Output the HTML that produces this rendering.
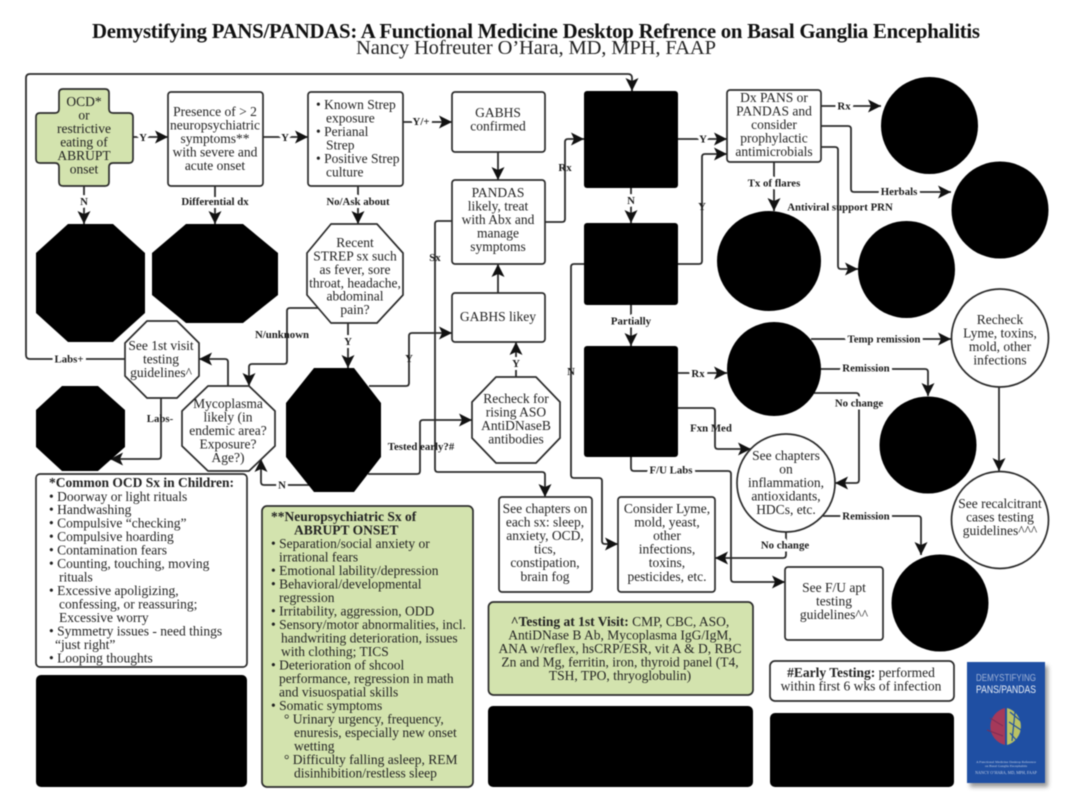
<!DOCTYPE html>
<html lang="en"><head><meta charset="utf-8"><title>Demystifying PANS/PANDAS</title>
<style>
html,body{margin:0;padding:0;background:#fff}
svg{display:block;filter:blur(.4px)}
text{font-family:"Liberation Serif",serif;fill:#222}
.t{font-size:13.5px;text-anchor:middle}
.l{font-size:13.5px}
.b{font-weight:bold}
.k{font-size:10.8px;font-weight:bold;text-anchor:middle;fill:#1a1a1a}
.h{paint-order:stroke;stroke:#fff;stroke-width:6px;stroke-linejoin:round}
.s{fill:#fff;stroke:#2b2b2b;stroke-width:1.7;stroke-linejoin:round}
.g{fill:#d3e3ae;stroke:#2b2b2b;stroke-width:1.7;stroke-linejoin:round}
.c{fill:none;stroke:#2b2b2b;stroke-width:1.8;stroke-linejoin:round;marker-end:url(#a)}
</style></head><body>
<svg width="1070" height="805" viewBox="0 0 1070 805" xmlns="http://www.w3.org/2000/svg">
<defs>
<marker id="a" markerUnits="userSpaceOnUse" markerWidth="14" markerHeight="13" refX="13" refY="6.5" orient="auto"><path d="M0,0 L13,6.5 L0,13 L3,6.5 Z" fill="#111"/></marker>
<filter id="sh" x="-20%" y="-20%" width="140%" height="140%"><feGaussianBlur stdDeviation="2"/></filter>
</defs>
<rect width="1070" height="805" fill="#fff"/>

<text x="536" y="38" text-anchor="middle" font-size="20.8" font-weight="bold" textLength="888" lengthAdjust="spacing" style="fill:#111">Demystifying PANS/PANDAS: A Functional Medicine Desktop Refrence on Basal Ganglia Encephalitis</text>
<text x="536" y="54" text-anchor="middle" font-size="20.5" textLength="360" lengthAdjust="spacing">Nancy Hofreuter O’Hara, MD, MPH, FAAP</text>

<!-- connectors -->
<path class="c" d="M125,359 H30 Q26,359 26,355 V78 Q26,74 30,74 H628 Q632,74 632,78 V91"/>
<path class="c" d="M133,137 H168"/>
<path class="c" d="M263,137 H308"/>
<path class="c" d="M403,122 H452"/>
<path class="c" d="M498,152 V180"/>
<path class="c" d="M84,186 V224"/>
<path class="c" d="M215,186 V224"/>
<path class="c" d="M358,186 V224"/>
<path class="c" d="M348,323 V368"/>
<path class="c" d="M320,308 H290 Q287,308 287,311 V361 Q287,364 284,364 H252 Q249,364 249,367 V386"/>
<path class="c" d="M228,386 V362 Q228,359 225,359 H199"/>
<path class="c" d="M161,398 V456 Q161,459 158,459 H110"/>
<path class="c" d="M310,485 H264 Q261,485 261,482 V459"/>
<path class="c" d="M369,386 H406 Q409,386 409,383 V336 Q409,333 412,333 H452"/>
<path class="c" d="M368,474 H417 Q420,474 420,471 V423 Q420,420 423,420 H472"/>
<path class="c" d="M516,377 V342"/>
<path class="c" d="M498,293 V264"/>
<path class="c" d="M452,221 H438 Q435,221 435,224 V469 Q435,472 438,472 H542 Q545,472 545,475 V497"/>
<path class="c" d="M545,222 H562 Q565,222 565,219 V142 Q565,139 568,139 H584"/>
<path class="c" d="M678,139 H727"/>
<path class="c" d="M631,188 V223"/>
<path class="c" d="M678,264 H699 Q702,264 702,261 V157 Q702,154 705,154 H727"/>
<path class="c" d="M584,264 H574 Q571,264 571,267 V475 Q571,478 574,478 H599 Q602,478 602,481 V541 Q602,544 605,544 H618"/>
<path class="c" d="M631,305 V346"/>
<path class="c" d="M821,106 H881"/>
<path class="c" d="M821,126 H848 Q851,126 851,129 V189 Q851,192 854,192 H951"/>
<path class="c" d="M821,147 H835 Q838,147 838,150 V266 Q838,269 841,269 H858"/>
<path class="c" d="M774,162 V211"/>
<path class="c" d="M811,339 H951"/>
<path class="c" d="M821,369 H925 Q928,369 928,372 V396"/>
<path class="c" d="M814,393 H856 Q859,393 859,396 V480 Q859,483 856,483 H835"/>
<path class="c" d="M999,387 V471"/>
<path class="c" d="M678,373 H727"/>
<path class="c" d="M678,408 H712 Q715,408 715,411 V446 Q715,449 718,449 H751"/>
<path class="c" d="M631,457 V468 Q631,471 634,471 H728 Q731,471 731,474 V579 Q731,582 734,582 H785"/>
<path class="c" d="M823,516 H918 Q921,516 921,519 V555"/>
<path class="c" d="M786,532 V555 Q786,558 783,558 H715"/>

<!-- shapes -->
<path class="g" stroke-width="2" d="M63,89 H105 Q109,89 109,93 V109 Q109,113 113,113 H129 Q133,113 133,117 V159 Q133,163 129,163 H113 Q109,163 109,167 V182 Q109,186 105,186 H63 Q59,186 59,182 V167 Q59,163 55,163 H40 Q36,163 36,159 V117 Q36,113 40,113 H55 Q59,113 59,109 V93 Q59,89 63,89 Z"/>
<rect class="s" x="168" y="92" width="95" height="94" rx="3"/>
<rect class="s" x="308" y="92" width="95" height="94" rx="3"/>
<rect class="s" x="452" y="92" width="93" height="60" rx="3"/>
<rect class="s" x="452" y="180" width="93" height="84" rx="3"/>
<rect class="s" x="452" y="293" width="93" height="49" rx="3"/>
<rect x="584" y="91" width="94" height="97" rx="3" fill="#000"/>
<rect x="584" y="223" width="94" height="82" rx="3" fill="#000"/>
<rect x="584" y="346" width="94" height="111" rx="3" fill="#000"/>
<rect class="s" x="727" y="90" width="94" height="72" rx="3"/>

<polygon fill="#000" points="68,224 113,224 145,253 145,313 113,342 68,342 36,313 36,253"/>
<polygon fill="#000" points="186,224 243,224 278,253 278,295 243,323 186,323 152,295 152,253"/>
<polygon class="s" points="331,224 377,224 403,253 403,295 377,323 331,323 307,295 307,253"/>
<polygon class="s" points="147,321 177,321 199,343 199,376 177,398 147,398 125,376 125,343"/>
<polygon fill="#000" points="62,386 98,386 125,410 125,447 98,471 62,471 36,447 36,410"/>
<polygon class="s" points="208,386 249,386 275,411 275,446 249,471 208,471 182,446 182,411"/>
<polygon fill="#000" points="314,368 354,368 381,403 381,457 354,492 314,492 286,457 286,403"/>
<polygon class="s" points="496,377 536,377 560,402 560,438 536,463 496,463 472,438 472,402"/>

<ellipse cx="929.5" cy="125.5" rx="48.5" ry="48.5" fill="#000"/>
<ellipse cx="1000" cy="210" rx="48.5" ry="48.5" fill="#000"/>
<ellipse cx="769" cy="261" rx="52" ry="50" fill="#000"/>
<ellipse cx="906.5" cy="269.5" rx="48.5" ry="48.5" fill="#000"/>
<ellipse class="s" cx="1000" cy="338" rx="48.5" ry="49"/>
<ellipse cx="774" cy="369" rx="47" ry="47" fill="#000"/>
<ellipse cx="928" cy="445" rx="48.5" ry="48.5" fill="#000"/>
<ellipse class="s" cx="786" cy="483" rx="49" ry="49"/>
<ellipse class="s" cx="1000" cy="520" rx="48.5" ry="48.5"/>
<ellipse cx="940" cy="603" rx="48.5" ry="48.5" fill="#000"/>

<rect class="s" x="36" y="474" width="211" height="193" rx="4"/>
<rect x="36" y="675" width="211" height="112" rx="5" fill="#000"/>
<rect class="g" x="262" y="506" width="211" height="281" rx="5"/>
<rect class="s" x="499" y="497" width="93" height="95" rx="3"/>
<rect class="s" x="618" y="497" width="97" height="95" rx="3"/>
<rect class="g" x="488.500" y="602" width="264.500" height="93" rx="5"/>
<rect x="488" y="706" width="265" height="81" rx="5" fill="#000"/>
<rect class="s" x="785" y="567" width="98" height="73" rx="3"/>
<rect class="s" x="770" y="661" width="184" height="40" rx="5"/>
<rect x="770" y="713" width="184" height="74" rx="5" fill="#000"/>

<!-- book -->
<rect x="970" y="666" width="78" height="121" fill="#555" opacity=".6" filter="url(#sh)"/>
<rect x="967" y="662" width="78" height="121" fill="#1f4fa3"/>
<text x="1006" y="681" text-anchor="middle" font-size="10.5" style="font-family:'Liberation Sans',sans-serif;fill:#9fb2d6" textLength="60" lengthAdjust="spacingAndGlyphs">DEMYSTIFYING</text>
<text x="1006" y="693" text-anchor="middle" font-size="11" style="font-family:'Liberation Sans',sans-serif;fill:#e8edf5" textLength="60" lengthAdjust="spacingAndGlyphs">PANS/PANDAS</text>
<path d="M1005,708 A19,19 0 0 0 1005,745 Z" fill="#a5395a"/>
<path d="M1007,708 A18,19 0 0 1 1007,745 Z" fill="#b9c265"/>
<path d="M1010,712 L1022,722 M1009,722 L1024,732 M1010,733 L1018,742 M1015,712 L1012,741" stroke="#1f4fa3" stroke-width="1.2" fill="none"/>
<path d="M990,718 L1003,726 M987,730 L1003,736" stroke="#7d2c55" stroke-width="1" fill="none"/>
<text x="1006" y="763" text-anchor="middle" font-size="3.500" style="fill:#c5d1e6">A Functional Medicine Desktop Reference</text>
<text x="1006" y="767" text-anchor="middle" font-size="3.500" style="fill:#c5d1e6">on Basal Ganglia Encephalitis</text>
<text x="1006" y="774" text-anchor="middle" font-size="4" style="fill:#c5d1e6">NANCY O’HARA, MD, MPH, FAAP</text>

<!-- node text -->
<text class="t" x="84" y="106">OCD*</text><text class="t" x="84" y="119.500">or</text><text class="t" x="84" y="133">restrictive</text><text class="t" x="84" y="146.500">eating of</text><text class="t" x="84" y="160">ABRUPT</text><text class="t" x="84" y="173.500">onset</text>

<text class="t" x="215" y="116">Presence of &gt; 2</text><text class="t" x="215" y="129.500">neuropsychiatric</text><text class="t" x="215" y="143">symptoms**</text><text class="t" x="215" y="156.500">with severe and</text><text class="t" x="215" y="170">acute onset</text>

<text class="l" x="316" y="109">• Known Strep</text><text class="l" x="326" y="122.500">exposure</text><text class="l" x="316" y="136">• Perianal</text><text class="l" x="326" y="149.500">Strep</text><text class="l" x="316" y="163">• Positive Strep</text><text class="l" x="326" y="176.500">culture</text>

<text class="t" x="498" y="117">GABHS</text><text class="t" x="498" y="130.500">confirmed</text>
<text class="t" x="498" y="197">PANDAS</text><text class="t" x="498" y="210.500">likely, treat</text><text class="t" x="498" y="224">with Abx and</text><text class="t" x="498" y="237.500">manage</text><text class="t" x="498" y="251">symptoms</text>

<text class="t" x="355" y="247">Recent</text><text class="t" x="355" y="260.500">STREP sx such</text><text class="t" x="355" y="274">as fever, sore</text><text class="t" x="355" y="287.500">throat, headache,</text><text class="t" x="355" y="300.500">abdominal</text><text class="t" x="355" y="314">pain?</text>

<text class="t" x="161" y="350">See 1st visit</text><text class="t" x="161" y="363.500">testing</text><text class="t" x="161" y="377">guidelines^</text>

<text class="t" x="228" y="408">Mycoplasma</text><text class="t" x="228" y="421.500">likely (in</text><text class="t" x="228" y="435">endemic area?</text><text class="t" x="228" y="448.500">Exposure?</text><text class="t" x="228" y="462">Age?)</text>

<text class="t" x="516" y="403">Recheck for</text><text class="t" x="516" y="416.500">rising ASO</text><text class="t" x="516" y="430">AntiDNaseB</text><text class="t" x="516" y="443.500">antibodies</text>

<text class="t" x="498" y="321">GABHS likey</text>

<text class="t" x="774" y="102">Dx PANS or</text><text class="t" x="774" y="115.500">PANDAS and</text><text class="t" x="774" y="129">consider</text><text class="t" x="774" y="142.500">prophylactic</text><text class="t" x="774" y="156">antimicrobials</text>

<text class="t" x="1000" y="324">Recheck</text><text class="t" x="1000" y="337.500">Lyme, toxins,</text><text class="t" x="1000" y="351">mold, other</text><text class="t" x="1000" y="364.500">infections</text>

<text class="t" x="786" y="460">See chapters</text><text class="t" x="786" y="473.500">on</text><text class="t" x="786" y="487">inflammation,</text><text class="t" x="786" y="500.500">antioxidants,</text><text class="t" x="786" y="514">HDCs, etc.</text>

<text class="t" x="1000" y="508">See recalcitrant</text><text class="t" x="1000" y="521.500">cases testing</text><text class="t" x="1000" y="535">guidelines^^^</text>

<text class="t" x="545" y="513">See chapters on</text><text class="t" x="545" y="526.500">each sx: sleep,</text><text class="t" x="545" y="540">anxiety, OCD,</text><text class="t" x="545" y="553.500">tics,</text><text class="t" x="545" y="567">constipation,</text><text class="t" x="545" y="581">brain fog</text>

<text class="t" x="667" y="513">Consider Lyme,</text><text class="t" x="667" y="526.500">mold, yeast,</text><text class="t" x="667" y="540">other</text><text class="t" x="667" y="553.500">infections,</text><text class="t" x="667" y="567">toxins,</text><text class="t" x="667" y="581">pesticides, etc.</text>

<text class="t" x="834" y="592">See F/U apt</text><text class="t" x="834" y="605.500">testing</text><text class="t" x="834" y="619">guidelines^^</text>

<text class="t" x="620" y="626"><tspan class="b">^Testing at 1st Visit:</tspan> CMP, CBC, ASO,</text><text class="t" x="620" y="639.500">AntiDNase B Ab, Mycoplasma IgG/IgM,</text><text class="t" x="620" y="653">ANA w/reflex, hsCRP/ESR, vit A &amp; D, RBC</text><text class="t" x="620" y="666.500">Zn and Mg, ferritin, iron, thyroid panel (T4,</text><text class="t" x="620" y="680">TSH, TPO, thryoglobulin)</text>

<text class="t" x="861" y="677"><tspan class="b">#Early Testing:</tspan> performed</text><text class="t" x="861" y="690.500">within first 6 wks of infection</text>

<!-- OCD list -->
<text class="l b" x="49" y="487">*Common OCD Sx in Children:</text>
<text class="l" x="49" y="501">• Doorway or light rituals</text>
<text class="l" x="49" y="514">• Handwashing</text>
<text class="l" x="49" y="527.500">• Compulsive “checking”</text>
<text class="l" x="49" y="541">• Compulsive hoarding</text>
<text class="l" x="49" y="554.500">• Contamination fears</text>
<text class="l" x="49" y="568">• Counting, touching, moving</text>
<text class="l" x="59" y="581.500">rituals</text>
<text class="l" x="49" y="595">• Excessive apoligizing,</text>
<text class="l" x="59" y="608.500">confessing, or reassuring;</text>
<text class="l" x="59" y="622">Excessive worry</text>
<text class="l" x="49" y="635.500">• Symmetry issues - need things</text>
<text class="l" x="55" y="649">“just right”</text>
<text class="l" x="49" y="662.500">• Looping thoughts</text>

<!-- Neuro list -->
<text class="l b" x="271" y="521">**Neuropsychiatric Sx of</text>
<text class="l b" x="294" y="534.500">ABRUPT ONSET</text>
<text class="l" x="271" y="548">• Separation/social anxiety or</text>
<text class="l" x="279" y="561.500">irrational fears</text>
<text class="l" x="271" y="575">• Emotional lability/depression</text>
<text class="l" x="271" y="588.500">• Behavioral/developmental</text>
<text class="l" x="279" y="602">regression</text>
<text class="l" x="271" y="615.500">• Irritability, aggression, ODD</text>
<text class="l" x="271" y="629">• Sensory/motor abnormalities, incl.</text>
<text class="l" x="281" y="642.500">handwriting deterioration, issues</text>
<text class="l" x="281" y="656">with clothing; TICS</text>
<text class="l" x="271" y="669.500">• Deterioration of shcool</text>
<text class="l" x="279" y="683">performance, regression in math</text>
<text class="l" x="279" y="696.500">and visuospatial skills</text>
<text class="l" x="271" y="710">• Somatic symptoms</text>
<text class="l" x="284" y="723.500">° Urinary urgency, frequency,</text>
<text class="l" x="294" y="737">enuresis, especially new onset</text>
<text class="l" x="294" y="750.500">wetting</text>
<text class="l" x="284" y="764">° Difficulty falling asleep, REM</text>
<text class="l" x="294" y="777.500">disinhibition/restless sleep</text>

<!-- connector labels -->
<text class="k h" x="143" y="141">Y</text>
<text class="k h" x="285" y="141">Y</text>
<text class="k h" x="421" y="125">Y/+</text>
<text class="k h" x="84" y="205">N</text>
<text class="k h" x="215" y="205">Differential dx</text>
<text class="k h" x="358" y="205">No/Ask about</text>
<text class="k" x="282" y="338">N/unknown</text>
<text class="k h" x="348" y="345">Y</text>
<text class="k h" x="69" y="362.500">Labs+</text>
<text class="k" x="160" y="422">Labs-</text>
<text class="k h" x="282" y="488.500">N</text>
<text class="k" x="409" y="362">Y</text>
<text class="k" x="421" y="450">Tested early?#</text>
<text class="k h" x="516" y="367">Y</text>
<text class="k" x="435" y="261">Sx</text>
<text class="k" x="565" y="171">Rx</text>
<text class="k h" x="703" y="142.500">Y</text>
<text class="k h" x="631" y="204">N</text>
<text class="k" x="702" y="210">Y</text>
<text class="k" x="571" y="375">N</text>
<text class="k h" x="631" y="324.500">Partially</text>
<text class="k h" x="844" y="109.500">Rx</text>
<text class="k h" x="899" y="195">Herbals</text>
<text class="k" x="840" y="210.500">Antiviral support PRN</text>
<text class="k h" x="774" y="186.500">Tx of flares</text>
<text class="k h" x="884" y="342.500">Temp remission</text>
<text class="k h" x="866" y="371.500">Remission</text>
<text class="k h" x="859" y="406.500">No change</text>
<text class="k h" x="698" y="377">Rx</text>
<text class="k" x="711" y="431.500">Fxn Med</text>
<text class="k h" x="671" y="473.500">F/U Labs</text>
<text class="k h" x="866" y="519.500">Remission</text>
<text class="k h" x="785" y="548.500">No change</text>
</svg>
</body></html>
